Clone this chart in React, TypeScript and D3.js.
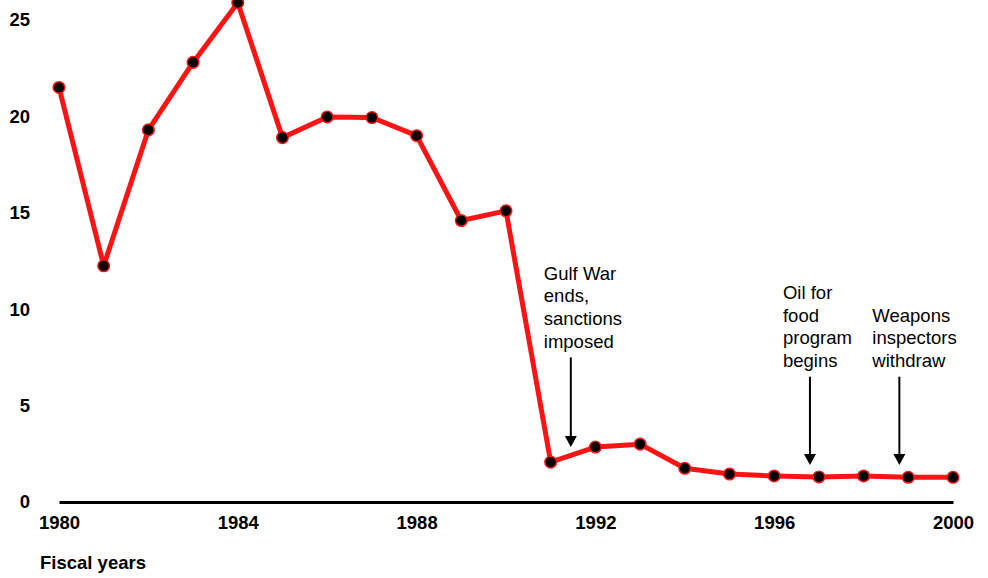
import React, { useEffect, useRef } from "react";
import * as d3 from "d3";

const years = [
  1980, 1981, 1982, 1983, 1984, 1985, 1986, 1987, 1988, 1989, 1990, 1991, 1992,
  1993, 1994, 1995, 1996, 1997, 1998, 1999, 2000,
];
const values = [
  21.5, 12.25, 19.3, 22.8, 25.9, 18.9, 19.97, 19.94, 19.0, 14.6, 15.1, 2.07,
  2.85, 3.0, 1.75, 1.45, 1.35, 1.3, 1.35, 1.28, 1.28,
];
const yTicks = [0, 5, 10, 15, 20, 25];
const xTicks = [1980, 1984, 1988, 1992, 1996, 2000];
const xTitle = "Fiscal years";

const noteLines = [
  ["Gulf War", "ends,", "sanctions", "imposed"],
  ["Oil for", "food", "program", "begins"],
  ["Weapons", "inspectors", "withdraw"],
];
const noteYears = [1991.45, 1996.8, 1998.8];
const noteTop = [7.5, 6.5, 6.5];
const noteTip = [2.85, 1.92, 1.92];

const W = 988;
const H = 578;
const FONT = "'Liberation Sans', Arial, Helvetica, sans-serif";
const RED = "#fb1414";

export default function App() {
  const ref = useRef<SVGSVGElement | null>(null);

  useEffect(() => {
    if (!ref.current) return;
    const svg = d3.select(ref.current);
    svg.selectAll("*").remove();

    const x = d3.scaleLinear([1980, 2000], [59, 953]);
    const y = d3.scaleLinear([0, 25], [502, 20]);

    // y axis labels only
    const yAxis = d3.axisLeft(y).tickValues(yTicks).tickSize(0).tickPadding(0);
    const gy = svg.append("g").attr("transform", "translate(30,0)").call(yAxis);
    gy.select(".domain").remove();
    gy.selectAll("text")
      .attr("font-family", FONT)
      .attr("font-size", 18.5)
      .attr("font-weight", "bold")
      .attr("fill", "#000");

    // x axis with thick baseline
    const xAxis = d3
      .axisBottom(x)
      .tickValues(xTicks)
      .tickFormat(d3.format("d"))
      .tickSize(0)
      .tickSizeOuter(0)
      .tickPadding(14);
    const gx = svg.append("g").attr("transform", "translate(0,502)").call(xAxis);
    gx.select(".domain").attr("stroke", "#000").attr("stroke-width", 3);
    gx.selectAll("text")
      .attr("font-family", FONT)
      .attr("font-size", 18.5)
      .attr("font-weight", "bold")
      .attr("fill", "#000");

    svg
      .append("text")
      .attr("x", 40)
      .attr("y", 569)
      .attr("font-family", FONT)
      .attr("font-size", 18.5)
      .attr("font-weight", "bold")
      .text(xTitle);

    const pts = years.map((yr, i) => ({ yr, v: values[i] }));
    const line = d3
      .line<{ yr: number; v: number }>()
      .x((d) => x(d.yr))
      .y((d) => y(d.v));

    svg
      .append("path")
      .datum(pts)
      .attr("d", line)
      .attr("fill", "none")
      .attr("stroke", RED)
      .attr("stroke-width", 5)
      .attr("stroke-linejoin", "round");

    svg
      .append("g")
      .selectAll("circle")
      .data(pts)
      .enter()
      .append("circle")
      .attr("cx", (d) => x(d.yr))
      .attr("cy", (d) => y(d.v))
      .attr("r", 5.8)
      .attr("fill", "#000")
      .attr("stroke", RED)
      .attr("stroke-width", 1.5);

    // annotations
    noteLines.forEach((lines, i) => {
      const ax = x(noteYears[i]);
      const top = y(noteTop[i]);
      const tip = y(noteTip[i]);
      const g = svg.append("g");
      g.append("line")
        .attr("x1", ax)
        .attr("x2", ax)
        .attr("y1", top)
        .attr("y2", tip - 8)
        .attr("stroke", "#000")
        .attr("stroke-width", 2);
      g.append("path")
        .attr("d", `M${ax - 6},${tip - 11}L${ax + 6},${tip - 11}L${ax},${tip}Z`)
        .attr("fill", "#000");
      const t = g
        .append("text")
        .attr("font-family", FONT)
        .attr("font-size", 18.5)
        .attr("fill", "#000");
      const n = lines.length;
      lines.forEach((s, j) => {
        t.append("tspan")
          .attr("x", ax - 27)
          .attr("y", top - 16 - (n - 1 - j) * 22.7)
          .attr("dy", "0.35em")
          .text(s);
      });
    });
  }, []);

  return (
    <div style={{ position: "absolute", left: 0, top: 0 }}>
      <svg ref={ref} width={W} height={H} style={{ display: "block" }} />
    </div>
  );
}
